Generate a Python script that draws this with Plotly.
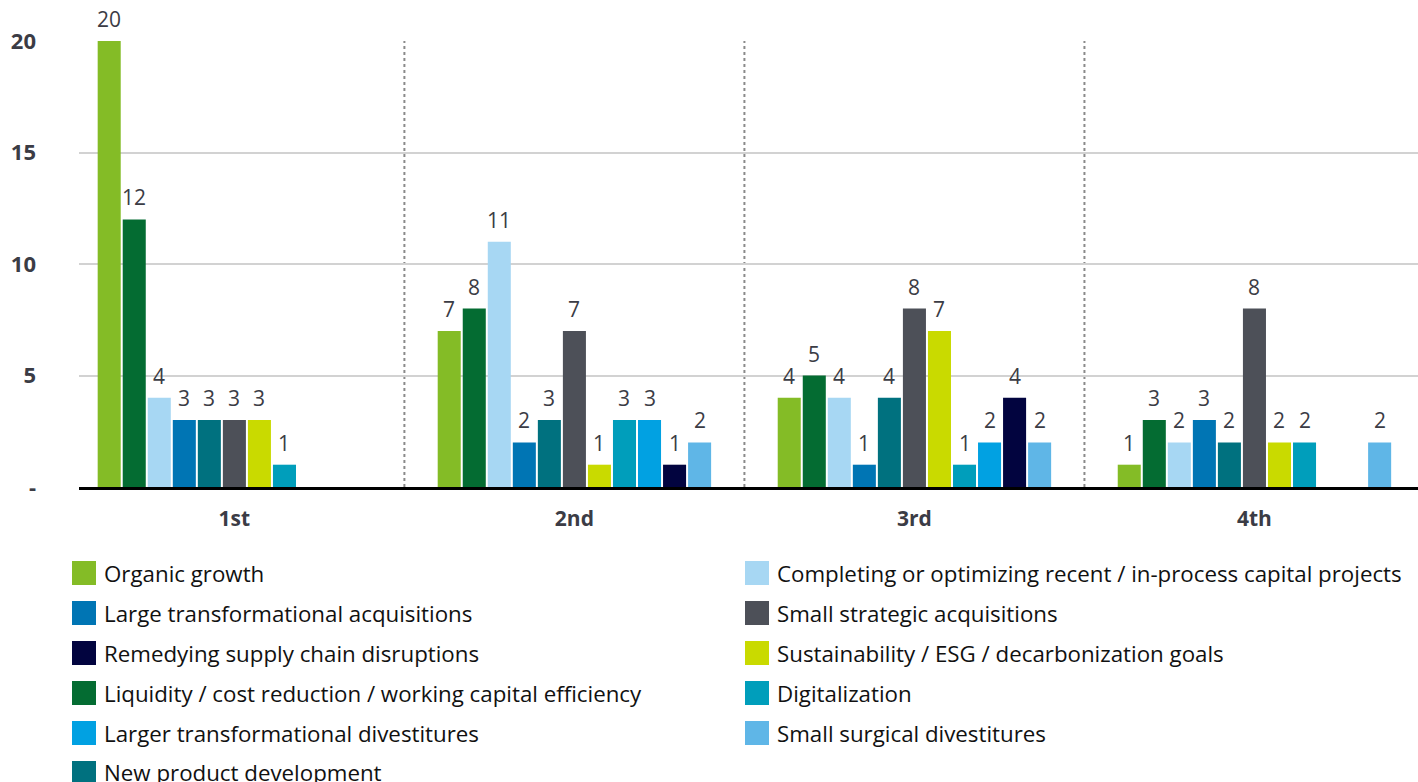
import plotly.graph_objects as go

# ---------------- data ----------------
categories = ["1st", "2nd", "3rd", "4th"]

# bar order inside each group
series_names = [
    "Organic growth",
    "Liquidity / cost reduction / working capital efficiency",
    "Completing or optimizing recent / in-process capital projects",
    "Large transformational acquisitions",
    "New product development",
    "Small strategic acquisitions",
    "Sustainability / ESG / decarbonization goals",
    "Digitalization",
    "Larger transformational divestitures",
    "Remedying supply chain disruptions",
    "Small surgical divestitures",
]
series_colors = [
    "#84BC26", "#046C32", "#A7D7F3", "#0075B4", "#00717F", "#4D5058",
    "#C9DA00", "#009EBB", "#01A1E2", "#02043F", "#5FB6E7",
]

organic_growth = [20, 7, 4, 1]
liquidity = [12, 8, 5, 3]
completing_projects = [4, 11, 4, 2]
large_acquisitions = [3, 2, 1, 3]
new_product = [3, 3, 4, 2]
small_acquisitions = [3, 7, 8, 8]
sustainability = [3, 1, 7, 2]
digitalization = [1, 3, 1, 2]
larger_divestitures = [None, 3, 2, None]
remedying_supply = [None, 1, 4, None]
small_divestitures = [None, 2, 2, 2]

series_values = [
    organic_growth, liquidity, completing_projects, large_acquisitions,
    new_product, small_acquisitions, sustainability, digitalization,
    larger_divestitures, remedying_supply, small_divestitures,
]

# legend order (row-major, two columns)
legend_order = [
    "Organic growth",
    "Completing or optimizing recent / in-process capital projects",
    "Large transformational acquisitions",
    "Small strategic acquisitions",
    "Remedying supply chain disruptions",
    "Sustainability / ESG / decarbonization goals",
    "Liquidity / cost reduction / working capital efficiency",
    "Digitalization",
    "Larger transformational divestitures",
    "Small surgical divestitures",
    "New product development",
]

y_tickvals = [0, 5, 10, 15, 20]
y_ticktext = ["-", "5", "10", "15", "20"]

# ---------------- layout constants ----------------
W, H = 1418, 782
ML, MR, MT, MB = 79, 0, 41, 295
PW, PH = W - ML - MR, H - MT - MB
FONT = "Open Sans"
TXT = "#3b3c45"
BARGAP = 0.19
N = len(series_names)
SLOT = (1 - BARGAP) / N  # category units per bar slot


def px_x(p):
    return (p - ML) / PW


def px_y(p):
    return (H - MB - p) / PH


fig = go.Figure()
annotations = []
for i, (name, vals, col) in enumerate(zip(series_names, series_values, series_colors)):
    fig.add_trace(go.Bar(
        x=categories, y=vals, name=name,
        marker=dict(color=col, line=dict(width=0)),
        showlegend=False,
    ))
    # value labels above each bar
    for j, v in enumerate(vals):
        if v is None:
            continue
        annotations.append(dict(
            xref="x", yref="y", x=j + (i - (N - 1) / 2) * SLOT, y=v,
            text=str(v), showarrow=False, xanchor="center", yanchor="middle",
            yshift=22, font=dict(family=FONT, size=21, color=TXT),
        ))

shapes = []
for xs in [0.5, 1.5, 2.5]:
    shapes.append(dict(type="line", xref="x", yref="y", x0=xs, x1=xs, y0=0, y1=20,
                       line=dict(color="#8a8a8a", width=2, dash="dot"), layer="below"))

col_sq_x = [72, 745]
row0_y = 573
row_step = 40
sq = 24
for i, name in enumerate(legend_order):
    col = series_colors[series_names.index(name)]
    c, r = i % 2, i // 2
    cx = col_sq_x[c]
    cy = row0_y + r * row_step
    shapes.append(dict(type="rect", xref="paper", yref="paper",
                       x0=px_x(cx), x1=px_x(cx + sq),
                       y0=px_y(cy + sq / 2), y1=px_y(cy - sq / 2),
                       fillcolor=col, line=dict(width=0)))
    annotations.append(dict(xref="paper", yref="paper", x=px_x(cx + sq + 6), y=px_y(cy),
                            text=name, showarrow=False, xanchor="left", yanchor="middle",
                            font=dict(family=FONT, size=22.3, color="#111111")))

fig.update_layout(
    width=W, height=H,
    margin=dict(l=ML, r=MR, t=MT, b=MB, autoexpand=False),
    paper_bgcolor="white", plot_bgcolor="white",
    barmode="group", bargap=BARGAP, bargroupgap=0.08,
    font=dict(family=FONT, color=TXT),
    showlegend=False,
    shapes=shapes, annotations=annotations,
    xaxis=dict(
        range=[-0.457, 3.481], showgrid=False, showline=True,
        linecolor="black", linewidth=3, ticks="",
        tickfont=dict(family=FONT, size=21, color=TXT, weight="bold"),
        ticklabelstandoff=11,
    ),
    yaxis=dict(
        range=[0, 20], tickvals=y_tickvals, ticktext=y_ticktext,
        showgrid=True, gridcolor="#d2d2d2", gridwidth=1.5,
        zeroline=False, showline=False, ticks="",
        tickfont=dict(family=FONT, size=22, color=TXT, weight="bold"),
        ticklabelstandoff=42,
    ),
)

fig.write_html(
    "out.html",
    config={"displayModeBar": False},
    post_script="document.body.style.margin='0';document.body.style.padding='0';document.body.style.overflow='hidden';",
)
